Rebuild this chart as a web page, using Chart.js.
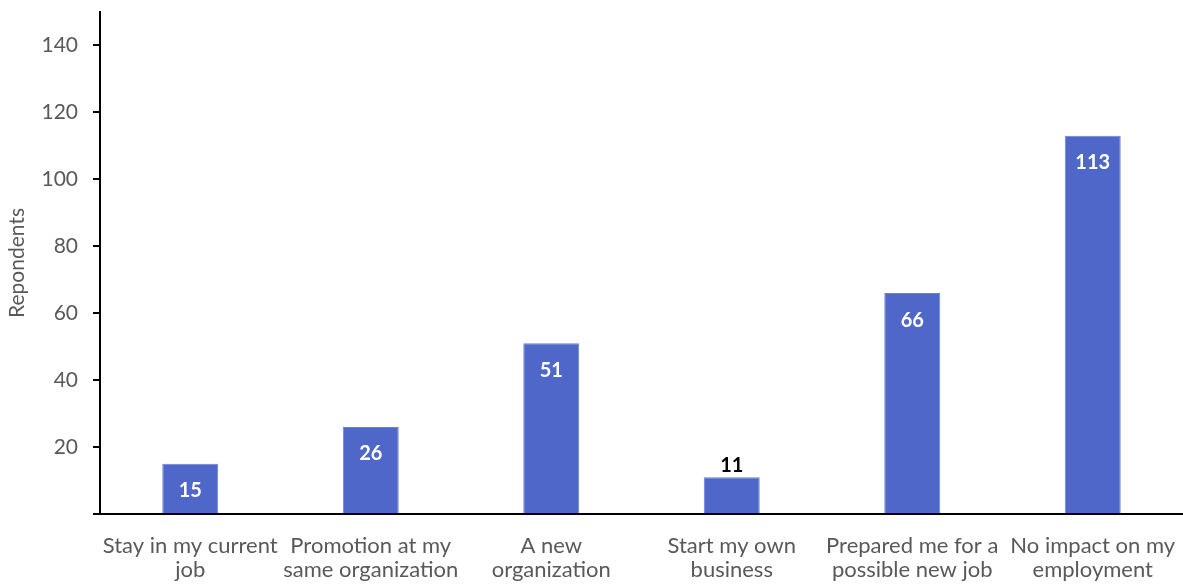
<!DOCTYPE html>
<html lang="en">
<head>
    <meta charset="UTF-8">
    <title>Respondents</title>
    <script src="https://cdn.jsdelivr.net/npm/chart.js@4"></script>
    <style>
        html, body { margin: 0; padding: 0; background: #fff; }
        #wrap { width: 1183px; height: 584px; }
    </style>
</head>
<body>
    <div id="wrap"><canvas id="dataChart"></canvas></div>

    <script>
        const categories = [
            ['Stay in my current', 'job'],
            ['Promotion at my', 'same organization'],
            ['A new', 'organization'],
            ['Start my own', 'business'],
            ['Prepared me for a', 'possible new job'],
            ['No impact on my', 'employment']
        ];
        const respondents = [15, 26, 51, 11, 66, 113];
        const yTicks = [0, 20, 40, 60, 80, 100, 120, 140];

        const FONT = 'Lato, "Open Sans", sans-serif';

        // value labels: inside the bar top in white, above the bar in black if it is too short
        const barLabels = {
            id: 'barLabels',
            afterDatasetsDraw(chart) {
                const ctx = chart.ctx;
                const meta = chart.getDatasetMeta(0);
                ctx.save();
                ctx.font = 'bold 20px ' + FONT;
                ctx.textAlign = 'center';
                ctx.textBaseline = 'middle';
                meta.data.forEach((bar, i) => {
                    const v = respondents[i];
                    if (v < 14) {
                        ctx.fillStyle = '#000';
                        ctx.fillText(v, bar.x, bar.y - 12);
                    } else {
                        ctx.fillStyle = '#fff';
                        ctx.fillText(v, bar.x, bar.y + 27);
                    }
                });
                ctx.restore();
            }
        };

        const ctx = document.getElementById('dataChart').getContext('2d');
        const dataChart = new Chart(ctx, {
            type: 'bar',
            data: {
                labels: categories,
                datasets: [{
                    label: 'Respondents',
                    data: respondents,
                    backgroundColor: '#4f67c9',
                    borderColor: '#6a80d8',
                    borderWidth: 1,
                    categoryPercentage: 1,
                    barPercentage: 0.31
                }]
            },
            options: {
                responsive: true,
                maintainAspectRatio: false,
                animation: false,
                layout: { padding: { top: 12, right: 0, bottom: 0, left: 0 } },
                plugins: {
                    legend: { display: false },
                    tooltip: { enabled: false }
                },
                scales: {
                    x: {
                        grid: { display: false, drawTicks: false },
                        border: { color: '#000', width: 2 },
                        ticks: {
                            color: '#595959',
                            padding: 20,
                            maxRotation: 0,
                            autoSkip: false,
                            font: { family: FONT, size: 22, lineHeight: 1.1 }
                        },
                        afterFit(scale) {
                            scale.height = 70;
                            scale.paddingLeft = 0;
                            scale.paddingRight = 0;
                        }
                    },
                    y: {
                        min: 0,
                        max: 150,
                        afterBuildTicks(scale) {
                            scale.ticks = yTicks.map(v => ({ value: v }));
                        },
                        afterFit(scale) {
                            scale.width = 100;
                            scale.paddingTop = 0;
                            scale.paddingBottom = 0;
                        },
                        grid: {
                            drawOnChartArea: false,
                            drawTicks: true,
                            tickLength: 7,
                            color: '#000',
                            lineWidth: 2
                        },
                        border: { color: '#000', width: 2 },
                        title: {
                            display: true,
                            text: 'Repondents',
                            color: '#595959',
                            font: { family: FONT, size: 21 },
                            padding: { top: 5, bottom: 0 }
                        },
                        ticks: {
                            color: '#595959',
                            padding: 15,
                            font: { family: FONT, size: 21 },
                            callback: (v) => v === 0 ? '' : v
                        }
                    }
                }
            },
            plugins: [barLabels]
        });
    </script>
</body>
</html>
